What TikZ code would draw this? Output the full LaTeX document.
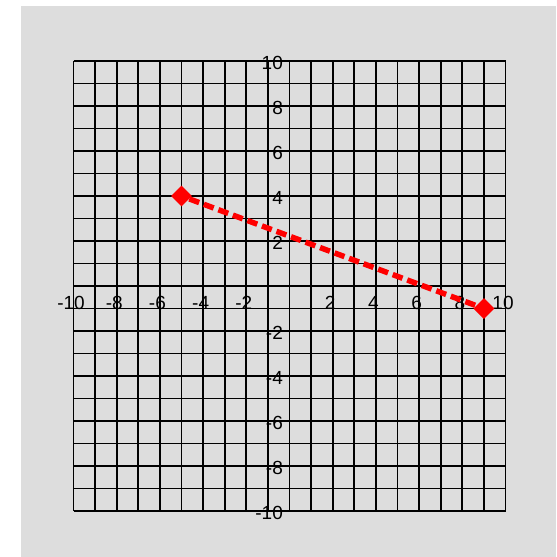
\documentclass[tikz,border=0pt]{standalone}
\usepackage{fontspec}
\setmainfont{Liberation Sans}
\usetikzlibrary{shapes.geometric}
\definecolor{bg}{RGB}{221,221,221}
\begin{document}
\begin{tikzpicture}[x=21.6pt,y=22.5pt,
  gridline/.style={black,line width=1.8pt},
  lab/.style={font=\fontsize{19}{19}\selectfont,inner sep=0pt},
  xlab/.style={lab,anchor=center},
  ylab/.style={lab,anchor=east},
  marker/.style={diamond,fill=red,inner sep=0pt,minimum width=21pt,minimum height=21pt},
  seg/.style={red,line width=5.5pt,dash pattern=on 10.5pt off 5pt}]
\useasboundingbox (-13.403,-12.044) rectangle (12.338,12.711);
\fill[white] (-13.403,-12.044) rectangle (12.338,12.711);
\fill[bg] (-12.431,-12.044) rectangle (12.338,12.444);
\foreach \i in {-10,...,10} {
  \draw[gridline] (\i,-10) -- (\i,10);
  \draw[gridline] (-10,\i) -- (10,\i);
}
\foreach \v in {-10,-8,-6,-4,-2,2,4,6,8,10} {
  \node[xlab] (xl\v) at (\v-0.115,-0.756) {\v};
  \node[ylab] (yl\v) at (-0.30,\v-0.09) {\v};
}
\node[marker] (p) at (-5,4) {};
\node[marker] (q) at (9,-1) {};
\draw[seg] (p) -- (q);
\end{tikzpicture}
\end{document}
